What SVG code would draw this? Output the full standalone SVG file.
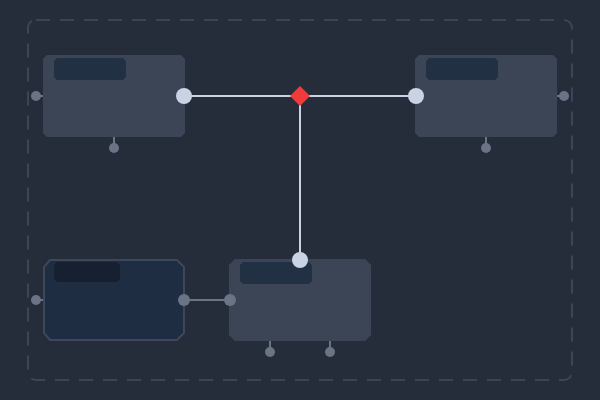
<svg xmlns="http://www.w3.org/2000/svg" width="600" height="400" viewBox="0 0 600 400">
<style>
.node{fill:#3b4556}
.dark{fill:#1f2d42;stroke:#3c4759;stroke-width:2}
.hdr{fill:#223044}
.hdr2{fill:#172030}
.stub{stroke:#6b7485;stroke-width:2}
.sp{fill:#6b7485}
.bp{fill:#c9d3e3}
.edge{stroke:#c9d3e3;stroke-width:2;fill:none}
.edge2{stroke:#6b7485;stroke-width:2;fill:none}
</style>
<rect width="600" height="400" fill="#252d3b"/>
<rect x="28" y="20" width="544" height="360" rx="8" fill="none" stroke="#3a4658" stroke-width="2" stroke-dasharray="14 10"/>
<g id="connectors">
<line class="edge" x1="184" y1="96" x2="416" y2="96"/>
<line class="edge" x1="300" y1="96" x2="300" y2="260"/>
<line class="edge2" x1="184" y1="300" x2="230" y2="300"/>
</g>
<g id="node1">
<polygon class="node" points="47,55 181,55 185,59 185,133 181,137 47,137 43,133 43,59"/>
<polygon class="hdr" points="57,58 123,58 126,61 126,77 123,80 57,80 54,77 54,61"/>
<line class="stub" x1="36" y1="96" x2="43" y2="96"/>
<circle class="sp" cx="36" cy="96" r="5"/>
<line class="stub" x1="114" y1="137" x2="114" y2="148"/>
<circle class="sp" cx="114" cy="148" r="5"/>
<circle class="bp" cx="184" cy="96" r="8"/>
</g>
<g id="node2">
<polygon class="node" points="419,55 553,55 557,59 557,133 553,137 419,137 415,133 415,59"/>
<polygon class="hdr" points="429,58 495,58 498,61 498,77 495,80 429,80 426,77 426,61"/>
<line class="stub" x1="557" y1="96" x2="564" y2="96"/>
<circle class="sp" cx="564" cy="96" r="5"/>
<line class="stub" x1="486" y1="137" x2="486" y2="148"/>
<circle class="sp" cx="486" cy="148" r="5"/>
<circle class="bp" cx="416" cy="96" r="8"/>
</g>
<g id="node3">
<polygon class="dark" points="50,260 177,260 184,267 184,333 177,340 50,340 44,333 44,267"/>
<polygon class="hdr2" points="57,262 117,262 120,265 120,279 117,282 57,282 54,279 54,265"/>
<line class="stub" x1="36" y1="300" x2="43" y2="300"/>
<circle class="sp" cx="36" cy="300" r="5"/>
<circle class="sp" cx="184" cy="300" r="6"/>
</g>
<g id="node4">
<polygon class="node" points="235,259 365,259 371,265 371,335 365,341 235,341 229,335 229,265"/>
<polygon class="hdr" points="243,262 309,262 312,265 312,281 309,284 243,284 240,281 240,265"/>
<line class="stub" x1="270" y1="341" x2="270" y2="352"/>
<circle class="sp" cx="270" cy="352" r="5"/>
<line class="stub" x1="330" y1="341" x2="330" y2="352"/>
<circle class="sp" cx="330" cy="352" r="5"/>
<circle class="sp" cx="230" cy="300" r="6"/>
<circle class="bp" cx="300" cy="260" r="8"/>
</g>
<g id="junction">
<polygon points="300,86 310,96 300,106 290,96" fill="#ef3b3b"/>
</g>
</svg>
